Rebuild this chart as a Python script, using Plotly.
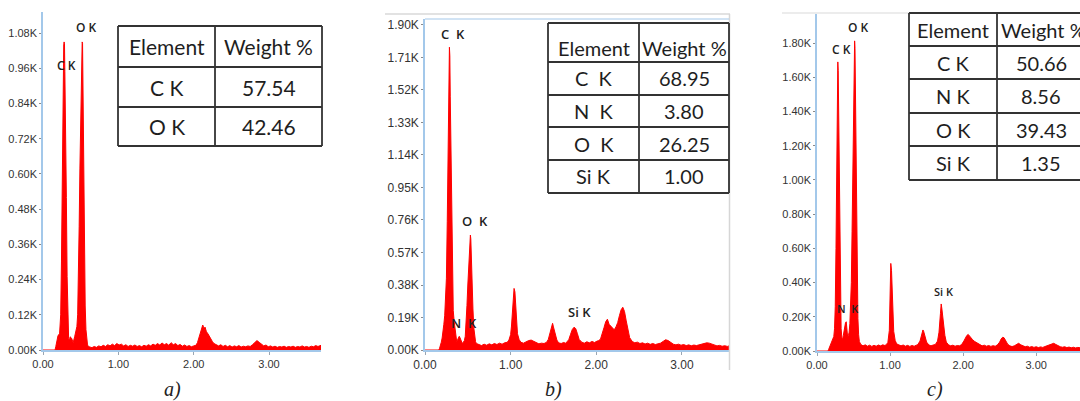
import plotly.graph_objects as go

W, H = 1080, 401

# ---------------- data ----------------
# Panel a) spectrum: energy (keV) and counts
a_keV = [0.00, 0.16, 0.17, 0.18, 0.20, 0.22, 0.235, 0.245, 0.255, 0.265, 0.275, 0.28, 0.285, 0.29, 0.30, 0.31,
         0.32, 0.33, 0.34, 0.35, 0.36, 0.38, 0.40, 0.42, 0.43, 0.44, 0.45, 0.46, 0.47, 0.48, 0.49, 0.50,
         0.51, 0.52, 0.525, 0.53, 0.54, 0.55, 0.56, 0.57, 0.58, 0.59, 0.60,
         0.62, 0.65, 0.68, 0.71, 0.74, 0.77, 0.80, 0.83, 0.86, 0.89, 0.92, 0.95, 0.98, 1.01, 1.04, 1.07,
         1.10, 1.13, 1.16, 1.19, 1.22, 1.25, 1.28, 1.31, 1.34, 1.37, 1.40, 1.43, 1.46, 1.49, 1.52, 1.55,
         1.58, 1.61, 1.64, 1.67, 1.70, 1.73, 1.76, 1.79, 1.82, 1.85, 1.88, 1.91, 1.94, 1.97, 2.00, 2.03,
         2.05, 2.07, 2.09, 2.11, 2.12, 2.13, 2.14, 2.15, 2.17, 2.19, 2.21, 2.23, 2.25, 2.27, 2.30,
         2.33, 2.36, 2.39, 2.42, 2.45, 2.48, 2.51, 2.54, 2.57, 2.60, 2.63, 2.66, 2.69, 2.72, 2.75, 2.78,
         2.81, 2.84, 2.87, 2.90, 2.93, 2.96, 2.99, 3.02, 3.05, 3.08, 3.11, 3.14, 3.17, 3.20, 3.23, 3.26,
         3.29, 3.32, 3.35, 3.38, 3.41, 3.44, 3.47, 3.50, 3.53, 3.56, 3.59, 3.62, 3.65, 3.69]
a_counts = [0, 0, 12, 30, 50, 55, 120, 300, 600, 850, 1040, 1050, 1045, 950, 780, 520,
            250, 100, 40, 30, 45, 40, 25, 45, 60, 70, 80, 120, 220, 420, 620, 820,
            1000, 1050, 1045, 900, 600, 300, 150, 70, 40, 20, 12,
            10, 8, 12, 9, 14, 11, 16, 12, 18, 14, 20, 15, 22, 17, 20, 14,
            18, 12, 16, 13, 17, 12, 15, 11, 16, 13, 18, 14, 20, 16, 22, 17,
            24, 18, 22, 16, 25, 18, 22, 15, 19, 13, 17, 12, 15, 11, 14, 16,
            25, 40, 60, 75, 85, 80, 70, 78, 62, 55, 45, 35, 28, 22, 18,
            14, 18, 12, 16, 11, 15, 10, 14, 11, 15, 10, 13, 11, 14, 12, 18,
            24, 32, 26, 20, 14, 17, 11, 14, 10, 13, 9, 12, 10, 13, 9, 12,
            10, 13, 9, 12, 10, 14, 10, 12, 9, 13, 11, 15, 12, 16]

# Panel b) spectrum
b_keV = [0.00, 0.16, 0.17, 0.18, 0.19, 0.20, 0.21, 0.22, 0.23, 0.24, 0.25, 0.26, 0.27, 0.28, 0.285, 0.29,
         0.295, 0.30, 0.31, 0.32, 0.33, 0.34, 0.35, 0.36, 0.37, 0.38, 0.39, 0.40, 0.41, 0.42, 0.43, 0.44,
         0.45, 0.46, 0.47, 0.48, 0.49, 0.50, 0.51, 0.52, 0.53, 0.535, 0.54, 0.55, 0.56, 0.57, 0.58, 0.59, 0.60,
         0.63, 0.66, 0.69, 0.72, 0.75, 0.78, 0.81, 0.84, 0.87, 0.90, 0.93,
         0.96, 0.98, 1.00, 1.01, 1.02, 1.03, 1.04, 1.05, 1.06, 1.07, 1.08, 1.10, 1.12,
         1.15, 1.18, 1.21, 1.24, 1.27, 1.30, 1.33, 1.36, 1.39,
         1.42, 1.44, 1.46, 1.48, 1.49, 1.50, 1.52, 1.54, 1.56, 1.59, 1.62, 1.64,
         1.66, 1.68, 1.70, 1.72, 1.74, 1.76, 1.78, 1.80, 1.83,
         1.86, 1.89, 1.92, 1.95, 1.98, 2.01,
         2.03, 2.05, 2.07, 2.09, 2.11, 2.13, 2.15, 2.17, 2.19, 2.21, 2.23, 2.25, 2.27, 2.29, 2.31, 2.33,
         2.35, 2.37, 2.39, 2.42,
         2.45, 2.48, 2.51, 2.54, 2.57, 2.60, 2.63, 2.66, 2.69, 2.72, 2.75, 2.78, 2.81, 2.84, 2.87, 2.90,
         2.93, 2.96, 2.99, 3.02, 3.05, 3.08, 3.11, 3.14, 3.17, 3.20, 3.23, 3.26, 3.29, 3.32, 3.35, 3.38,
         3.41, 3.44, 3.47, 3.50, 3.53, 3.55]
b_counts = [0, 0, 10, 25, 45, 70, 100, 150, 200, 280, 420, 750, 1200, 1580, 1770, 1720,
            1480, 1250, 880, 450, 230, 170, 120, 70, 50, 60, 75, 80, 70, 55, 45, 40,
            45, 55, 80, 150, 260, 380, 500, 620, 672, 650, 530, 380, 240, 130, 75, 50, 38,
            30, 26, 34, 28, 36, 30, 38, 32, 40, 34, 42,
            45, 58, 90, 140, 230, 320, 360, 340, 260, 160, 95, 60, 45,
            40, 48, 55, 58, 50, 42, 36, 40, 38,
            45, 62, 100, 140, 156, 135, 90, 58, 42, 38, 44, 40,
            48, 62, 92, 120, 133, 125, 95, 62, 46,
            40, 48, 42, 50, 44, 52,
            55, 65, 92, 130, 165, 180, 150, 138, 125, 118, 135, 160, 200, 235, 250, 225,
            170, 112, 72, 50,
            42, 46, 38, 42, 35, 40, 33, 38, 32, 36, 40, 50, 60, 55, 42, 34,
            30, 34, 28, 32, 26, 30, 25, 29, 26, 30, 34, 38, 42, 40, 34, 28,
            24, 27, 22, 25, 21, 24]

# Panel c) spectrum
c_keV = [0.00, 0.15, 0.16, 0.17, 0.19, 0.21, 0.23, 0.24, 0.25, 0.26, 0.27, 0.28, 0.285, 0.29, 0.30, 0.31,
         0.32, 0.33, 0.34, 0.35, 0.36, 0.37, 0.38, 0.39, 0.40, 0.41, 0.42, 0.43, 0.44, 0.45, 0.46, 0.47,
         0.48, 0.49, 0.50, 0.51, 0.515, 0.52, 0.53, 0.54, 0.55, 0.56, 0.57, 0.58, 0.60,
         0.63, 0.66, 0.69, 0.72, 0.75, 0.78, 0.81, 0.84, 0.87, 0.90, 0.93,
         0.95, 0.97, 0.99, 1.00, 1.01, 1.02, 1.03, 1.04, 1.05, 1.07, 1.09,
         1.12, 1.15, 1.18, 1.21, 1.24, 1.27, 1.30, 1.33, 1.36,
         1.38, 1.41, 1.43, 1.45, 1.46, 1.48, 1.50, 1.53, 1.56, 1.59,
         1.62, 1.65, 1.67, 1.69, 1.70, 1.71, 1.73, 1.75, 1.77, 1.80,
         1.83, 1.86, 1.89, 1.92, 1.95,
         1.98, 2.01, 2.03, 2.05, 2.07, 2.09, 2.11, 2.13, 2.16, 2.20,
         2.23, 2.26, 2.29, 2.32, 2.35, 2.38, 2.41, 2.44,
         2.47, 2.50, 2.52, 2.54, 2.56, 2.58, 2.61,
         2.64, 2.67, 2.70, 2.73, 2.76, 2.79, 2.82, 2.85, 2.88, 2.91, 2.94, 2.97, 3.00, 3.03, 3.06, 3.09,
         3.12, 3.15, 3.18, 3.21, 3.24, 3.27, 3.30, 3.33, 3.36, 3.39, 3.42, 3.45, 3.48, 3.51, 3.54, 3.57, 3.60]
c_counts = [0, 0, 10, 20, 38, 55, 85, 130, 260, 600, 1100, 1500, 1690, 1640, 1280, 700,
            300, 130, 80, 65, 90, 125, 150, 165, 171, 120, 80, 90, 110, 160, 250, 400,
            700, 1100, 1500, 1750, 1813, 1770, 1400, 900, 420, 190, 95, 55, 38,
            30, 36, 28, 34, 27, 33, 28, 35, 30, 36, 32,
            38, 50, 120, 300, 512, 470, 330, 200, 115, 62, 42,
            36, 30, 35, 28, 33, 27, 32, 28, 34,
            38, 58, 92, 123, 115, 82, 52, 36, 30, 35,
            38, 58, 110, 220, 275, 245, 165, 92, 52, 36,
            30, 34, 28, 32, 30,
            38, 58, 78, 90, 97, 86, 80, 66, 55, 45,
            36, 30, 34, 28, 32, 27, 31, 28,
            36, 52, 70, 80, 78, 60, 40,
            30, 26, 30, 38, 45, 36, 28, 25, 28, 22, 26, 21, 25, 20, 24, 21,
            26, 30, 36, 42, 45, 38, 30, 25, 22, 25, 20, 23, 19, 22, 18, 21, 19]

# Tick labels
x_tickvals = [0, 1, 2, 3]
x_ticktext = ["0.00", "1.00", "2.00", "3.00"]
a_ytickvals = [0, 120, 240, 360, 480, 600, 720, 840, 960, 1080]
a_yticktext = ["0.00K", "0.12K", "0.24K", "0.36K", "0.48K", "0.60K", "0.72K", "0.84K", "0.96K", "1.08K"]
b_ytickvals = [0, 190, 380, 570, 760, 950, 1140, 1330, 1520, 1710, 1900]
b_yticktext = ["0.00K", "0.19K", "0.38K", "0.57K", "0.76K", "0.95K", "1.14K", "1.33K", "1.52K", "1.71K", "1.90K"]
c_ytickvals = [0, 200, 400, 600, 800, 1000, 1200, 1400, 1600, 1800]
c_yticktext = ["0.00K", "0.20K", "0.40K", "0.60K", "0.80K", "1.00K", "1.20K", "1.40K", "1.60K", "1.80K"]

# Composition tables
table_header = ["Element", "Weight %"]
a_elements = ["C K", "O K"]
a_weights = ["57.54", "42.46"]
b_elements = ["C\u00a0\u00a0K", "N\u00a0\u00a0K", "O\u00a0\u00a0K", "Si K"]
b_weights = ["68.95", "3.80", "26.25", "1.00"]
c_elements = ["C K", "N K", "O K", "Si K"]
c_weights = ["50.66", "8.56", "39.43", "1.35"]

captions = ["a)", "b)", "c)"]

# ---------------- helpers ----------------
def px(x):
    return x / W


def py(y):
    return 1 - y / H


AXIS_BLUE = "#a3c8ea"
TICK_COLOR = "#333333"
RED = "#ff0000"

fig = go.Figure()
for i, (xs, ys) in enumerate([(a_keV, a_counts), (b_keV, b_counts), (c_keV, c_counts)]):
    suffix = "" if i == 0 else str(i + 1)
    fig.add_trace(go.Scatter(
        x=xs, y=ys, mode="lines", line=dict(color=RED, width=1),
        fill="tozeroy", fillcolor=RED, xaxis="x" + suffix, yaxis="y" + suffix,
        hoverinfo="skip"))

panels = [
    dict(x0=43, x1=321, yb=350, yt=12, xr=[0, 3.69], yr=[0, 1152],
         tv=a_ytickvals, tt=a_yticktext, fs=11),
    dict(x0=425, x1=729, yb=350, yt=19, xr=[0, 3.55], yr=[0, 1935],
         tv=b_ytickvals, tt=b_yticktext, fs=12),
    dict(x0=817, x1=1080, yb=351, yt=13, xr=[0, 3.60], yr=[0, 1976],
         tv=c_ytickvals, tt=c_yticktext, fs=11),
]

layout = dict(width=W, height=H, margin=dict(l=0, r=0, t=0, b=0, pad=0, autoexpand=False),
              paper_bgcolor="white", plot_bgcolor="white", showlegend=False,
              template="none")
for i, p in enumerate(panels):
    s = "" if i == 0 else str(i + 1)
    layout["xaxis" + s] = dict(
        domain=[px(p["x0"]), min(1.0, px(p["x1"]))], range=p["xr"], anchor="y" + s,
        automargin=False,
        showgrid=False, zeroline=False, showline=True, linecolor=AXIS_BLUE, linewidth=2,
        ticks="outside", ticklen=3, tickcolor="#9aa6b2", tickwidth=1,
        tickvals=x_tickvals, ticktext=x_ticktext,
        tickfont=dict(family="Liberation Sans", size=p["fs"], color=TICK_COLOR))
    layout["yaxis" + s] = dict(
        domain=[py(p["yb"]), py(p["yt"])], range=p["yr"], anchor="x" + s,
        automargin=False,
        showgrid=False, zeroline=False, showline=True, linecolor=AXIS_BLUE, linewidth=1.5,
        ticks="outside", ticklen=2, tickcolor="#8a8a8a", tickwidth=1,
        tickvals=p["tv"], ticktext=p["tt"],
        tickfont=dict(family="Liberation Sans", size=p["fs"], color=TICK_COLOR))
fig.update_layout(**layout)

shapes = []
annotations = []


def hline(x0, x1, y, color, width):
    shapes.append(dict(type="line", xref="paper", yref="paper", x0=px(x0), x1=px(x1),
                       y0=py(y), y1=py(y), line=dict(color=color, width=width)))


def vline(x, y0, y1, color, width):
    shapes.append(dict(type="line", xref="paper", yref="paper", x0=px(x), x1=px(x),
                       y0=py(y0), y1=py(y1), line=dict(color=color, width=width)))


def text(x, y, s, size, family="Lato", color="#1e1e1e", weight=None, italic=False, anchor="center"):
    f = dict(family=family, size=size, color=color)
    if weight:
        f["weight"] = weight
    if italic:
        f["style"] = "italic"
    annotations.append(dict(x=px(x), y=py(y), xref="paper", yref="paper", text=s,
                            showarrow=False, xanchor=anchor, yanchor="middle", font=f))


def table(x0, xdiv, x1, rows, elems, weights, size, header_dy=0, weight_x=None):
    col = "#333333"
    for y in rows:
        hline(x0, x1, y, col, 1.8)
    for x in (x0, xdiv, x1):
        vline(x, rows[0], rows[-1], col, 1.8)
    cx0 = (x0 + xdiv) / 2
    cx1 = (xdiv + x1) / 2
    hy = (rows[0] + rows[1]) / 2 + header_dy
    text(cx0, hy, table_header[0], size)
    if weight_x is None:
        text(cx1, hy, table_header[1], size)
    else:
        text(weight_x, hy, table_header[1], size, anchor="left")
    for k in range(len(elems)):
        yy = (rows[k + 1] + rows[k + 2]) / 2
        text(cx0, yy, elems[k], size)
        text(cx1, yy, weights[k], size)


# frame details of panels b and c (screenshot borders)
hline(385, 730, 14, "#e2e2e2", 2)
vline(729.5, 14, 370, "#d6d6d6", 1.5)
hline(425, 729, 19, AXIS_BLUE, 1.2)
hline(782, 1080, 13, "#ececec", 2)

# tables
table(118, 215, 322, [26, 67, 107, 146], a_elements, a_weights, 21)
table(548, 639, 729, [23, 62, 95, 127, 160, 193], b_elements, b_weights, 20, header_dy=5)
table(909, 997, 1085, [13, 46, 79, 113, 146, 180], c_elements, c_weights, 20, weight_x=999)

# peak labels
LBL = "Open Sans"
text(86, 27, "O\u00a0K", 12, family=LBL, color="#222", weight=600)
text(66, 66, "C\u00a0K", 12, family=LBL, color="#222", weight=600)
text(453, 34, "C\u00a0\u00a0K", 13, family=LBL, color="#222", weight=600)
text(475, 221, "O\u00a0\u00a0K", 13, family=LBL, color="#222", weight=600)
text(464, 323, "N\u00a0\u00a0K", 13, family=LBL, color="#222", weight=600)
text(579, 312, "Si K", 13, family=LBL, color="#222", weight=600)
text(858, 28, "O\u00a0K", 12, family=LBL, color="#222", weight=600)
text(841, 49, "C\u00a0K", 12, family=LBL, color="#222", weight=600)
text(848, 308, "N\u00a0\u00a0K", 11, family=LBL, color="#222", weight=600)
text(944, 291, "Si K", 11, family=LBL, color="#222", weight=600)

# captions
for cx, cap in zip([172, 553, 935], captions):
    text(cx, 389, cap, 20, family="Liberation Serif", color="#222", italic=True)

fig.update_layout(shapes=shapes, annotations=annotations)
fig.write_html("out.html", config={"displayModeBar": False},
               post_script="document.body.style.margin='0';document.body.style.padding='0';")
